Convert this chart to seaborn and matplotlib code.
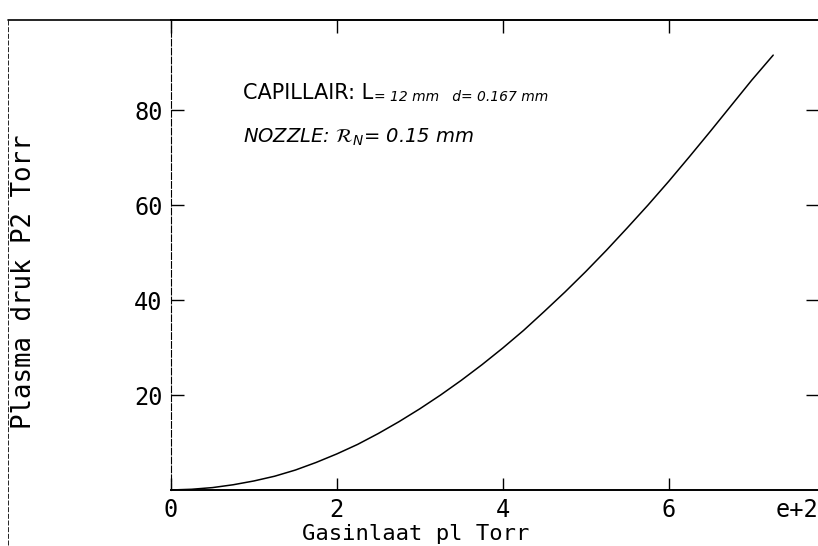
import seaborn as sns
import pandas as pd
import matplotlib.pyplot as plt
from matplotlib.lines import Line2D
import matplotlib.transforms as mtransforms

#-----------------------------------------------------------------------------------------------------------------------
"""Data read off the plot"""
gas_inlet = [0.0, 0.25, 0.5, 0.75, 1.0, 1.25, 1.5, 1.75, 2.0, 2.25, 2.5, 2.75, 3.0, 3.25, 3.5, 3.75,
             4.0, 4.25, 4.5, 4.75, 5.0, 5.25, 5.5, 5.75, 6.0, 6.25, 6.5, 6.75, 7.0, 7.26]
plasma_p2 = [0.0, 0.15, 0.5, 1.1, 1.9, 2.9, 4.2, 5.8, 7.6, 9.6, 11.9, 14.4, 17.1, 20.0, 23.1, 26.4,
             29.9, 33.6, 37.6, 41.7, 46.0, 50.5, 55.2, 60.0, 65.0, 70.2, 75.5, 80.9, 86.3, 91.6]

x_ticks = [0, 2, 4, 6]
y_ticks = [20, 40, 60, 80]

df = pd.DataFrame({'pl': gas_inlet, 'p2': plasma_p2})

#-----------------------------------------------------------------------------------------------------------------------
"""Figure"""
sns.set_style("ticks")
plt.rcParams['font.family'] = ['DejaVu Sans']
plt.rcParams['text.color'] = 'black'
PlotFont = 'DejaVu Sans Mono'

fig = plt.figure(figsize=(8.18, 5.46), dpi=100)
ax = fig.add_axes([0.209, 0.1026, 0.791, 0.8608])

sns.lineplot(data=df, x='pl', y='p2', color='black', linewidth=1.1, ax=ax)

ax.set_xlim(0, 7.8)
ax.set_ylim(0, 99)
ax.set_xticks(x_ticks)
ax.set_yticks(y_ticks)
ax.set_xticklabels([str(t) for t in x_ticks])
ax.set_yticklabels([str(t) for t in y_ticks])

ax.tick_params(axis='both', direction='in', length=9, width=1.0, colors='black', labelsize=17)
ax.tick_params(axis='x', top=True, pad=6)
ax.tick_params(axis='y', right=True, pad=6)
for label in ax.get_xticklabels() + ax.get_yticklabels():
    label.set_family(PlotFont)

ax.spines['right'].set_visible(False)
for s in ['left', 'top', 'bottom']:
    ax.spines[s].set_color('black')
ax.spines['left'].set_linewidth(0.8)
ax.spines['left'].set_linestyle((0, (6, 2)))
ax.spines['top'].set_linewidth(1.4)
ax.spines['bottom'].set_linewidth(1.4)

ax.set_xlabel('')
ax.set_ylabel('')

# "e+2" exponent marker at the right end of the x axis
trans = mtransforms.blended_transform_factory(ax.transData, ax.transAxes)
ax.text(7.55, -0.017, 'e+2', transform=trans, ha='center', va='top', fontsize=17,
        family=PlotFont, color='black')

# axis labels
fig.text(416 / 818, 1 - 534 / 546, 'Gasinlaat pl Torr', ha='center', va='center',
         fontsize=16, family=PlotFont)
fig.text(24 / 818, 1 - 282 / 546, 'Plasma druk P2 Torr', ha='center', va='center',
         rotation=90, fontsize=18.5, family=PlotFont)

# annotations
ax.text(0.87, 83.6, 'CAPILLAIR: L', fontsize=15, va='center', ha='left')
ax.text(2.45, 82.8, '= 12 mm   d= 0.167 mm', fontsize=10, style='italic', va='center', ha='left')
ax.text(0.87, 74.3, r'NOZZLE: $\mathcal{R}_N$= 0.15 mm', fontsize=14, style='italic',
        va='center', ha='left')

# scan frame lines
fig.add_artist(Line2D([8 / 818, 171 / 818], [1 - 20 / 546, 1 - 20 / 546], color='black', linewidth=1.2))
fig.add_artist(Line2D([8 / 818, 8 / 818], [1 - 20 / 546, 0], color='black', linewidth=0.6,
                      linestyle=(0, (6, 2))))

fig.savefig('out.png', dpi=100, facecolor='white')
